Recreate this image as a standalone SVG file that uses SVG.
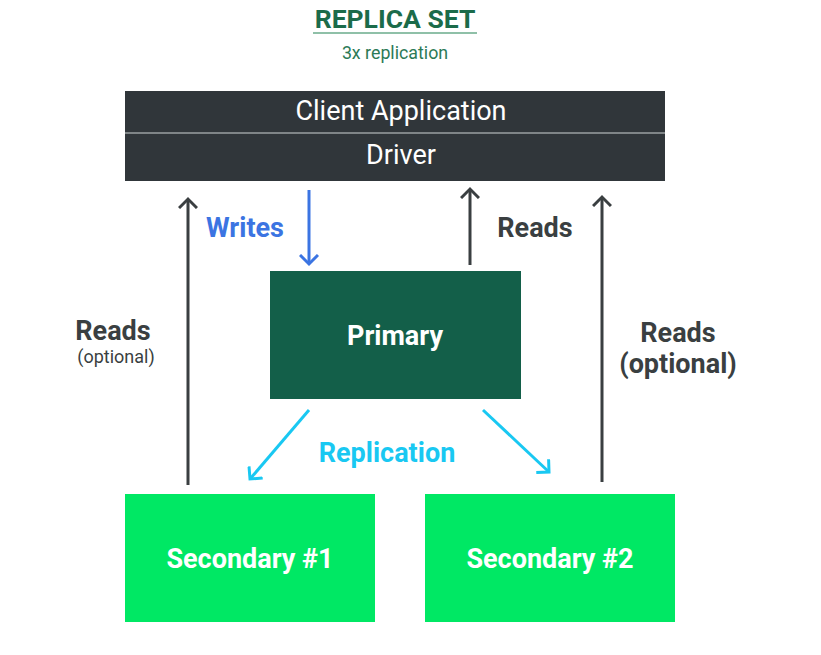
<svg xmlns="http://www.w3.org/2000/svg" width="821" height="655" viewBox="0 0 821 655">
<style>
text{font-family:Roboto,"Liberation Sans",sans-serif;text-anchor:middle}
.t{fill:#1b6b4a;font-weight:bold;font-size:26.5px}
.st{fill:#2c7a56;font-size:17.8px}
.cl{fill:#ffffff;font-size:27px}
.nb{fill:#ffffff;font-weight:bold;font-size:27px}
.lbl{fill:#3a3f41;font-weight:bold;font-size:27px}
.sm{fill:#3a3f41;font-size:18px}
.dk{stroke:#3a3f41;stroke-width:3;fill:none}
.bl{stroke:#3b74e2;stroke-width:3;fill:none}
.cy{stroke:#19c8f2;stroke-width:3;fill:none}
</style>
<defs>
<marker id="ad" markerWidth="20" markerHeight="20" refX="10" refY="10" orient="auto" markerUnits="userSpaceOnUse"><polyline points="1,1 10,10 1,19" fill="none" stroke="#3a3f41" stroke-width="3"/></marker>
<marker id="ab" markerWidth="20" markerHeight="20" refX="10" refY="10" orient="auto" markerUnits="userSpaceOnUse"><polyline points="1,1 10,10 1,19" fill="none" stroke="#3b74e2" stroke-width="3"/></marker>
<marker id="ac" markerWidth="20" markerHeight="20" refX="10" refY="10" orient="auto" markerUnits="userSpaceOnUse"><polyline points="1,1 10,10 1,19" fill="none" stroke="#19c8f2" stroke-width="3"/></marker>
</defs>
<g id="title">
<text class="t" x="395" y="28">REPLICA SET</text>
<line x1="313" y1="33" x2="477" y2="33" stroke="#8fc0a8" stroke-width="2"/>
<text class="st" x="395" y="59">3x replication</text>
</g>
<g id="client">
<rect x="125" y="91" width="540" height="90" fill="#30363a"/>
<line x1="125" y1="133" x2="665" y2="133" stroke="#9aa0a2" stroke-width="1.5"/>
<text class="cl" x="401" y="120">Client Application</text>
<text class="cl" x="401" y="164">Driver</text>
</g>
<g id="primary">
<rect x="270" y="271" width="251" height="128" fill="#135f49"/>
<text class="nb" x="395" y="345">Primary</text>
</g>
<g id="secondary1">
<rect x="125" y="494" width="250" height="128" fill="#00e864"/>
<text class="nb" x="250" y="568">Secondary #1</text>
</g>
<g id="secondary2">
<rect x="425" y="494" width="250" height="128" fill="#00e864"/>
<text class="nb" x="550" y="568">Secondary #2</text>
</g>
<g id="connectors">
<line class="bl" x1="309" y1="190" x2="309" y2="264" marker-end="url(#ab)"/>
<line class="dk" x1="470" y1="265" x2="470" y2="189" marker-end="url(#ad)"/>
<line class="dk" x1="188" y1="485" x2="188" y2="199" marker-end="url(#ad)"/>
<line class="dk" x1="602" y1="482" x2="602" y2="197" marker-end="url(#ad)"/>
<line class="cy" x1="309" y1="410" x2="250" y2="479" marker-end="url(#ac)"/>
<line class="cy" x1="483" y1="410" x2="549" y2="472" marker-end="url(#ac)"/>
</g>
<g id="labels">
<text x="245" y="237" style="fill:#3b74e2;font-weight:bold;font-size:27px">Writes</text>
<text class="lbl" x="535" y="237">Reads</text>
<text class="lbl" x="113" y="340">Reads</text>
<text class="sm" x="116" y="363">(optional)</text>
<text class="lbl" x="678" y="342">Reads</text>
<text class="lbl" x="678" y="373">(optional)</text>
<text x="387" y="462" style="fill:#19c8f2;font-weight:bold;font-size:27px">Replication</text>
</g>
</svg>
